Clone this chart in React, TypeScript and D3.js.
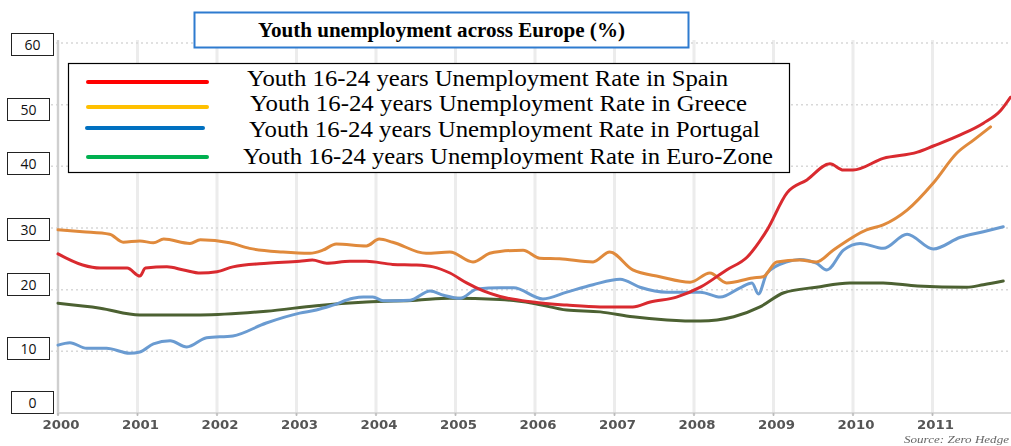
import React from "react";
import * as d3 from "d3";

const years = [2000, 2001, 2002, 2003, 2004, 2005, 2006, 2007, 2008, 2009, 2010, 2011];
const yTicks = [0, 10, 20, 30, 40, 50, 60];

const spainT = [2000.0, 2000.31, 2000.53, 2000.87, 2001.03, 2001.1, 2001.37, 2001.58, 2001.79, 2002.0, 2002.2, 2002.63, 2003.04, 2003.2, 2003.38, 2003.67, 2003.88, 2004.21, 2004.51, 2004.72, 2004.93, 2005.14, 2005.35, 2005.56, 2005.97, 2006.4, 2006.82, 2007.23, 2007.45, 2007.78, 2008.08, 2008.41, 2008.67, 2008.92, 2009.17, 2009.42, 2009.71, 2009.88, 2010.0, 2010.38, 2010.81, 2011.01, 2011.35, 2011.64, 2011.86, 2011.98];
const spainV = [25.8, 24.0, 23.5, 23.5, 22.2, 23.5, 23.7, 23.2, 22.7, 22.9, 23.7, 24.3, 24.6, 24.8, 24.3, 24.6, 24.6, 24.1, 24.0, 23.7, 22.7, 21.1, 19.8, 18.9, 18.0, 17.5, 17.2, 17.2, 18.0, 18.8, 20.4, 23.2, 25.3, 29.7, 35.7, 37.8, 40.4, 39.4, 39.4, 41.3, 42.3, 43.3, 45.1, 47.0, 49.1, 51.2];

const greeceT = [2000.0, 2000.31, 2000.65, 2000.82, 2001.03, 2001.2, 2001.33, 2001.66, 2001.79, 2002.16, 2002.41, 2002.83, 2003.17, 2003.33, 2003.5, 2003.88, 2004.04, 2004.21, 2004.63, 2004.93, 2005.22, 2005.43, 2005.56, 2005.85, 2006.06, 2006.31, 2006.73, 2006.94, 2007.23, 2007.57, 2007.95, 2008.2, 2008.41, 2008.74, 2008.87, 2009.04, 2009.33, 2009.54, 2009.75, 2010.17, 2010.38, 2010.68, 2011.01, 2011.31, 2011.52, 2011.73];
const greeceV = [29.7, 29.4, 29.0, 27.7, 27.9, 27.6, 28.2, 27.5, 28.1, 27.6, 26.7, 26.1, 25.9, 26.4, 27.4, 27.1, 28.2, 27.7, 25.9, 26.1, 24.5, 25.9, 26.2, 26.4, 25.1, 25.0, 24.5, 26.1, 23.2, 22.1, 21.2, 22.7, 21.1, 21.9, 22.1, 24.5, 24.8, 24.5, 26.4, 29.7, 30.5, 32.9, 37.3, 42.2, 44.3, 46.4];

const portugalT = [2000.0, 2000.15, 2000.36, 2000.61, 2000.9, 2001.03, 2001.2, 2001.41, 2001.62, 2001.87, 2002.2, 2002.62, 2003.04, 2003.25, 2003.46, 2003.71, 2003.84, 2003.96, 2004.09, 2004.43, 2004.68, 2004.85, 2005.06, 2005.27, 2005.56, 2005.73, 2006.1, 2006.4, 2006.73, 2007.07, 2007.32, 2007.66, 2008.08, 2008.33, 2008.58, 2008.73, 2008.81, 2008.92, 2009.17, 2009.33, 2009.54, 2009.67, 2009.88, 2010.09, 2010.38, 2010.68, 2011.01, 2011.35, 2011.64, 2011.89];
const portugalV = [11.0, 11.4, 10.5, 10.5, 9.7, 9.9, 11.2, 11.7, 10.7, 12.2, 12.5, 14.6, 16.2, 16.7, 17.5, 18.6, 18.8, 18.8, 18.2, 18.3, 19.8, 19.1, 18.6, 20.1, 20.3, 20.3, 18.5, 19.6, 20.8, 21.7, 20.4, 19.6, 19.6, 18.8, 20.3, 21.1, 19.3, 22.7, 24.5, 24.9, 24.3, 23.2, 26.4, 27.5, 26.7, 29.0, 26.6, 28.5, 29.4, 30.2];

const euroT = [2000.0, 2000.53, 2001.03, 2001.79, 2002.62, 2003.25, 2003.88, 2004.51, 2004.93, 2005.56, 2005.97, 2006.4, 2006.82, 2007.23, 2007.66, 2008.08, 2008.5, 2008.83, 2009.13, 2009.54, 2009.96, 2010.38, 2010.81, 2011.43, 2011.64, 2011.89];
const euroV = [17.8, 17.0, 15.9, 15.9, 16.5, 17.4, 18.0, 18.3, 18.6, 18.4, 17.8, 16.7, 16.4, 15.6, 15.1, 14.9, 15.6, 17.2, 19.5, 20.4, 21.1, 21.1, 20.6, 20.4, 20.8, 21.4];

const seriesNames = [
  "Youth 16-24 years Unemployment Rate in Spain",
  "Youth 16-24 years Unemployment Rate in Greece",
  "Youth 16-24 years Unemployment Rate in Portugal",
  "Youth 16-24 years Unemployment Rate in Euro-Zone",
];
const lineColors = ["#d92a2f", "#e08a3c", "#6a9bd1", "#4c6132"];
const legendColors = ["#ff0000", "#ffc000", "#0070c0", "#00b050"];

export default function App() {
  const W = 1011, H = 446;
  const x = d3.scaleLinear().domain([2000, 2012]).range([58, 1012]);
  const y = d3.scaleLinear().domain([0, 60]).range([413, 43]);
  const line = d3.line<[number, number]>().x(d => x(d[0])).y(d => y(d[1])).curve(d3.curveMonotoneX);
  const series = [
    d3.zip(spainT, spainV),
    d3.zip(greeceT, greeceV),
    d3.zip(portugalT, portugalV),
    d3.zip(euroT, euroV),
  ] as [number, number][][];
  const drawOrder = [3, 2, 1, 0];
  const boxes = [
    { v: 60, x: 11, y: 33, w: 42 },
    { v: 50, x: 7, y: 98, w: 42 },
    { v: 40, x: 7, y: 152, w: 42 },
    { v: 30, x: 7, y: 218, w: 42 },
    { v: 20, x: 7, y: 273, w: 42 },
    { v: 10, x: 7, y: 337, w: 42 },
    { v: 0, x: 11, y: 391, w: 42 },
  ];
  const legendY = [82, 107, 128, 157];
  const legendBase = [86, 111, 137, 164];
  const legendTextX = [247, 250, 249, 243];
  const legendTextW = [481, 497, 511, 530];
  const legendLine = [[88, 207], [88, 207], [87, 203], [88, 207]];
  return (
    <svg width={W} height={H} style={{ position: "absolute", left: 0, top: 0, background: "#fff" }}>
      <rect x={0} y={0} width={W} height={H} fill="#fff" />
      {years.map(yr => (
        <line key={yr} x1={x(yr)} x2={x(yr)} y1={40} y2={415} stroke="#ececec" strokeWidth={3} />
      ))}
      {yTicks.filter(t => t > 0).map(t => (
        <line key={t} x1={x(2000) - 12} x2={W} y1={y(t)} y2={y(t)} stroke="#d8d8d8" strokeWidth={1.5} strokeDasharray="2,3" />
      ))}
      <line x1={x(2000)} x2={x(2000)} y1={40} y2={415} stroke="#cfcfcf" strokeWidth={2} />
      <line x1={x(2000)} x2={W} y1={y(0)} y2={y(0)} stroke="#cfcfcf" strokeWidth={1.5} />
      {years.map(yr => (
        <line key={"t" + yr} x1={x(yr)} x2={x(yr)} y1={y(0)} y2={y(0) + 3} stroke="#bbb" strokeWidth={1.5} />
      ))}
      {years.map(yr => (
        <text key={"l" + yr} x={x(yr) + 3} y={429} textAnchor="middle" fontFamily="DejaVu Sans" fontWeight="bold" fontSize={11.5} fill="#555" textLength={37} lengthAdjust="spacingAndGlyphs" style={{ filter: "blur(0.4px)" }}>
          {yr}
        </text>
      ))}
      {drawOrder.map(i => (
        <path key={i} d={line(series[i]) || ""} fill="none" stroke={lineColors[i]} strokeWidth={3} strokeLinejoin="round" strokeLinecap="round" />
      ))}
      {boxes.map(b => (
        <g key={b.v}>
          <rect x={b.x + 0.5} y={b.y + 0.5} width={b.w} height={22} fill="#fff" stroke="#222" strokeWidth={1} />
          <text x={b.x + b.w / 2 + 0.5} y={b.y + 17} textAnchor="middle" fontFamily="Open Sans" fontSize={14} fill="#111">{b.v}</text>
        </g>
      ))}
      <rect x={194.5} y={12.5} width={494} height={35} fill="#fff" stroke="#2e7bcf" strokeWidth={2} />
      <text x={258} y={37} fontFamily="Liberation Serif" fontWeight="bold" fontSize={20.5} fill="#000" textLength={367} lengthAdjust="spacingAndGlyphs">
        Youth unemployment across Europe (%)
      </text>
      <rect x={68.5} y={63.5} width={721} height={109} fill="#fff" stroke="#000" strokeWidth={1.2} />
      {seriesNames.map((n, i) => (
        <g key={n}>
          <line x1={legendLine[i][0]} x2={legendLine[i][1]} y1={legendY[i]} y2={legendY[i]} stroke={legendColors[i]} strokeWidth={4} strokeLinecap="round" />
          <text x={legendTextX[i]} y={legendBase[i]} fontFamily="Liberation Serif" fontSize={23} fill="#000" textLength={legendTextW[i]} lengthAdjust="spacingAndGlyphs">{n}</text>
        </g>
      ))}
      <text x={904} y={443} fontFamily="Liberation Serif" fontStyle="italic" fontSize={10.5} fill="#666" textLength={105} lengthAdjust="spacingAndGlyphs" style={{ filter: "blur(0.5px)" }}>
        Source: Zero Hedge
      </text>
    </svg>
  );
}
